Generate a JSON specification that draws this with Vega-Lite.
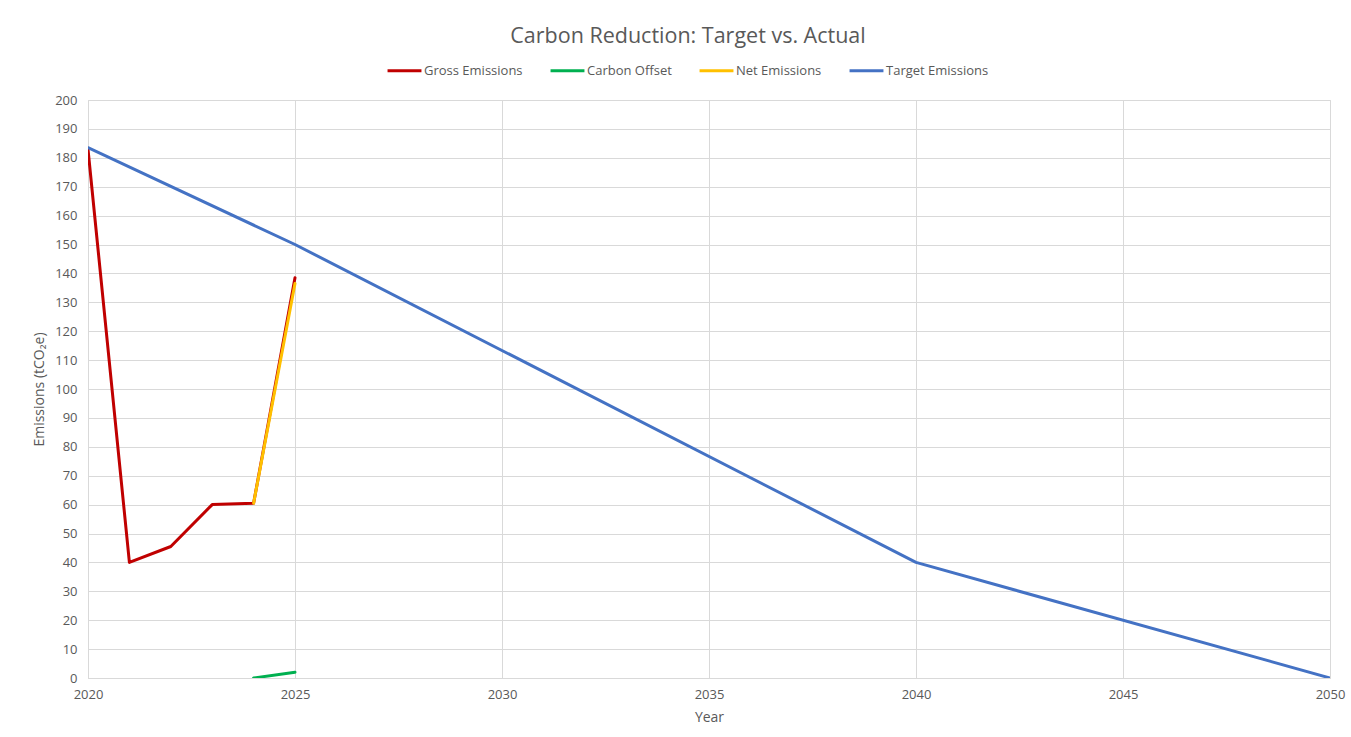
{
  "$schema": "https://vega.github.io/schema/vega-lite/v6.json",
  "autosize": "none",
  "width": 1242,
  "height": 578,
  "padding": {"left": 88, "top": 100, "right": 21, "bottom": 59},
  "background": "white",
  "title": {
    "text": "Carbon Reduction: Target vs. Actual",
    "anchor": "middle",
    "font": "Open Sans",
    "fontSize": 21.5,
    "fontWeight": "normal",
    "color": "#595959",
    "offset": 5,
    "dx": -21
  },
  "data": {
    "values": [
      {"Year": 2020, "Series": "Gross Emissions", "Value": 183},
      {"Year": 2021, "Series": "Gross Emissions", "Value": 40},
      {"Year": 2022, "Series": "Gross Emissions", "Value": 45.5},
      {"Year": 2023, "Series": "Gross Emissions", "Value": 60},
      {"Year": 2024, "Series": "Gross Emissions", "Value": 60.5},
      {"Year": 2025, "Series": "Gross Emissions", "Value": 138.5},
      {"Year": 2024, "Series": "Carbon Offset", "Value": 0},
      {"Year": 2025, "Series": "Carbon Offset", "Value": 2},
      {"Year": 2024, "Series": "Net Emissions", "Value": 60.5},
      {"Year": 2025, "Series": "Net Emissions", "Value": 136.5},
      {"Year": 2020, "Series": "Target Emissions", "Value": 183.5},
      {"Year": 2025, "Series": "Target Emissions", "Value": 150},
      {"Year": 2040, "Series": "Target Emissions", "Value": 40},
      {"Year": 2050, "Series": "Target Emissions", "Value": 0}
    ]
  },
  "mark": {"type": "line", "strokeWidth": 3, "strokeCap": "round", "strokeJoin": "round", "clip": true},
  "encoding": {
    "x": {
      "field": "Year",
      "type": "quantitative",
      "scale": {"domain": [2020, 2050], "nice": false, "zero": false},
      "axis": {
        "values": [2020, 2025, 2030, 2035, 2040, 2045, 2050],
        "format": "d",
        "title": "Year",
        "ticks": false,
        "domain": true,
        "domainColor": "#D9D9D9",
        "labelFlush": false,
        "labelBound": false,
        "labelPadding": 10,
        "titlePadding": 9
      }
    },
    "y": {
      "field": "Value",
      "type": "quantitative",
      "scale": {"domain": [0, 200], "nice": false},
      "axis": {
        "values": [0, 10, 20, 30, 40, 50, 60, 70, 80, 90, 100, 110, 120, 130, 140, 150, 160, 170, 180, 190, 200],
        "title": "Emissions (tCO₂e)",
        "ticks": false,
        "domain": false,
        "labelFlush": false,
        "labelPadding": 11,
        "titlePadding": 8
      }
    },
    "color": {
      "field": "Series",
      "type": "nominal",
      "scale": {
        "domain": ["Gross Emissions", "Carbon Offset", "Net Emissions", "Target Emissions"],
        "range": ["#C00000", "#00B050", "#FFC000", "#4472C4"]
      },
      "legend": {
        "title": null,
        "orient": "none",
        "direction": "horizontal",
        "legendX": 298,
        "legendY": -48,
        "symbolType": "stroke",
        "symbolSize": 1150,
        "symbolStrokeWidth": 3,
        "labelOffset": 1,
        "columnPadding": 21,
        "labelFont": "Open Sans",
        "labelFontSize": 13,
        "labelColor": "#595959"
      }
    },
    "order": {"field": "Year", "type": "quantitative"}
  },
  "config": {
    "view": {"stroke": "#D9D9D9", "strokeWidth": 1},
    "axis": {
      "grid": true,
      "gridColor": "#D9D9D9",
      "gridWidth": 1,
      "labelFont": "Open Sans",
      "labelFontSize": 13,
      "labelColor": "#595959",
      "titleFont": "Open Sans",
      "titleFontSize": 14,
      "titleFontWeight": "normal",
      "titleColor": "#595959"
    }
  }
}
